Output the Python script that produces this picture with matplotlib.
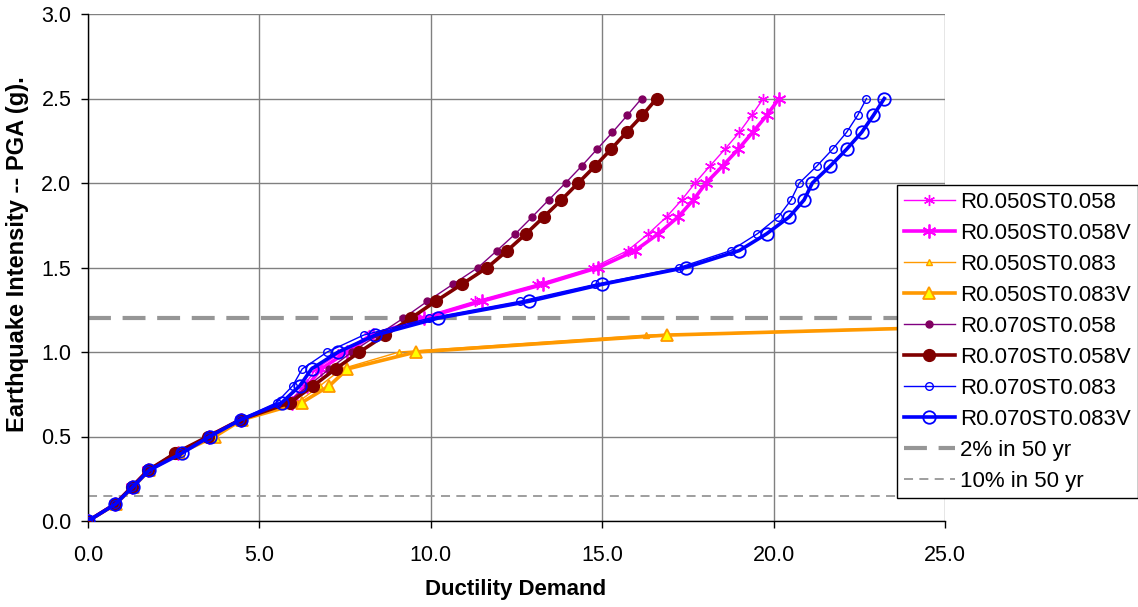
import matplotlib
matplotlib.use("Agg")
import matplotlib.pyplot as plt
from matplotlib.ticker import MultipleLocator, FormatStrFormatter

plt.rcParams['font.family'] = ['Liberation Sans', 'DejaVu Sans']

# ---- data ----
pga = [0.0, 0.1, 0.2, 0.3, 0.4, 0.5, 0.6, 0.7, 0.8, 0.9, 1.0, 1.1, 1.2, 1.3,
       1.4, 1.5, 1.6, 1.7, 1.8, 1.9, 2.0, 2.1, 2.2, 2.3, 2.4, 2.5]
pga_short = [0.0, 0.1, 0.2, 0.3, 0.4, 0.5, 0.6, 0.7, 0.8, 0.9, 1.0, 1.1, 1.2]

r050_058 = [0.0, 0.79, 1.28, 1.75, 2.60, 3.50, 4.45, 5.85, 6.30, 6.65, 7.40, 8.20, 9.65,
            11.29, 13.09, 14.74, 15.74, 16.35, 16.88, 17.32, 17.71, 18.14, 18.58, 19.00, 19.36, 19.70]
r050_058v = [0.0, 0.79, 1.28, 1.76, 2.62, 3.52, 4.46, 5.95, 6.40, 6.80, 7.55, 8.30, 9.80,
             11.48, 13.28, 14.89, 15.96, 16.64, 17.22, 17.66, 18.03, 18.51, 18.97, 19.39, 19.80, 20.16]
r050_083 = [0.0, 0.80, 1.30, 1.78, 2.62, 3.60, 4.45, 6.10, 6.77, 7.40, 9.08, 16.28, 33.8]
r050_083v = [0.0, 0.81, 1.31, 1.79, 2.65, 3.70, 4.50, 6.23, 7.04, 7.57, 9.57, 16.88, 34.5]
r070_058 = [0.0, 0.78, 1.25, 1.74, 2.48, 3.48, 4.43, 5.80, 6.43, 7.04, 7.70, 8.45, 9.20,
            9.90, 10.64, 11.38, 11.93, 12.47, 12.96, 13.44, 13.93, 14.40, 14.85, 15.30, 15.73, 16.15]
r070_058v = [0.0, 0.79, 1.27, 1.75, 2.54, 3.50, 4.45, 5.89, 6.57, 7.22, 7.92, 8.67, 9.42,
             10.14, 10.90, 11.65, 12.23, 12.78, 13.30, 13.81, 14.30, 14.79, 15.26, 15.71, 16.17, 16.59]
r070_083 = [0.0, 0.79, 1.28, 1.76, 2.70, 3.50, 4.43, 5.50, 5.97, 6.25, 6.98, 8.04, 9.96,
            12.60, 14.79, 17.25, 18.75, 19.53, 20.14, 20.51, 20.75, 21.26, 21.72, 22.13, 22.45, 22.71]
r070_083v = [0.0, 0.80, 1.30, 1.78, 2.73, 3.55, 4.46, 5.65, 6.18, 6.52, 7.30, 8.38, 10.20,
             12.87, 14.99, 17.44, 19.00, 19.80, 20.46, 20.89, 21.13, 21.65, 22.13, 22.57, 22.91, 23.23]

hazard_2pct = 1.2
hazard_10pct = 0.15

labels = ["R0.050ST0.058", "R0.050ST0.058V", "R0.050ST0.083", "R0.050ST0.083V",
          "R0.070ST0.058", "R0.070ST0.058V", "R0.070ST0.083", "R0.070ST0.083V",
          "2% in 50 yr", "10% in 50 yr"]

# ---- figure ----
W, H = 1138, 607
fig = plt.figure(figsize=(W / 100, H / 100), dpi=100)
ax = fig.add_axes([88 / W, (H - 521) / H, (945 - 88) / W, (521 - 14) / H])

star = (6, 2, 0)
ax.plot(r050_058, pga, color='#FF00FF', lw=1.0, marker=star, ms=8, mew=1.0, label=labels[0], zorder=3)
ax.plot(r050_058v, pga, color='#FF00FF', lw=2.6, marker=star, ms=10, mew=1.3, label=labels[1], zorder=3)
ax.plot(r050_083, pga_short, color='#FF9900', lw=1.0, marker='^', ms=5, mfc='#FFFF00', mec='#FF9900',
        mew=1.0, label=labels[2], zorder=3)
ax.plot(r050_083v, pga_short, color='#FF9900', lw=2.6, marker='^', ms=9, mfc='#FFFF00', mec='#FF9900',
        mew=1.3, label=labels[3], zorder=3)
ax.plot(r070_058, pga, color='#800080', lw=1.0, marker='o', ms=5, mfc='#800060', mec='#800060',
        label=labels[4], zorder=3)
ax.plot(r070_058v, pga, color='#800000', lw=2.6, marker='o', ms=8.5, mfc='#800000', mec='#800000',
        label=labels[5], zorder=3)
ax.plot(r070_083, pga, color='#0000FF', lw=1.0, marker='o', ms=5.5, mfc='none', mec='#0000FF',
        mew=1.0, label=labels[6], zorder=3)
ax.plot(r070_083v, pga, color='#0000FF', lw=2.6, marker='o', ms=9, mfc='none', mec='#0000FF',
        mew=1.3, label=labels[7], zorder=3)
ax.axhline(hazard_2pct, color='#969696', lw=3.0, dashes=(5.5, 2.8), label=labels[8], zorder=2)
ax.axhline(hazard_10pct, color='#969696', lw=1.3, dashes=(5, 3.5), label=labels[9], zorder=2)

ax.set_xlim(0, 25)
ax.set_ylim(0, 3.0)
ax.xaxis.set_major_locator(MultipleLocator(5))
ax.yaxis.set_major_locator(MultipleLocator(0.5))
ax.xaxis.set_major_formatter(FormatStrFormatter('%.1f'))
ax.yaxis.set_major_formatter(FormatStrFormatter('%.1f'))
ax.grid(True, color='#808080', lw=1.0, zorder=0)
ax.set_axisbelow(True)
for s in ['top', 'right']:
    ax.spines[s].set_visible(False)
for s in ['left', 'bottom']:
    ax.spines[s].set_color('black')
    ax.spines[s].set_linewidth(1.0)
ax.tick_params(axis='both', direction='out', length=5, width=1, color='black',
               labelsize=15.5)
ax.tick_params(axis='x', pad=12)
ax.tick_params(axis='y', pad=7)

fig.text(516 / W, 1 - 590 / H, "Ductility Demand", ha='center', va='center',
         fontsize=16, fontweight='bold')
fig.text(18 / W, 1 - 254 / H, "Earthquake Intensity -- PGA (g).", ha='center', va='center',
         rotation=90, fontsize=17, fontweight='bold')

leg = fig.legend(loc='upper left', bbox_to_anchor=(897 / W, 1 - 185 / H), borderaxespad=0,
                 fontsize=16, frameon=True, fancybox=False, framealpha=1, edgecolor='black',
                 handlelength=2.3, handletextpad=0.25, labelspacing=0.45, borderpad=0.3)
leg.get_frame().set_linewidth(1.0)

fig.savefig("out.png", dpi=100)
